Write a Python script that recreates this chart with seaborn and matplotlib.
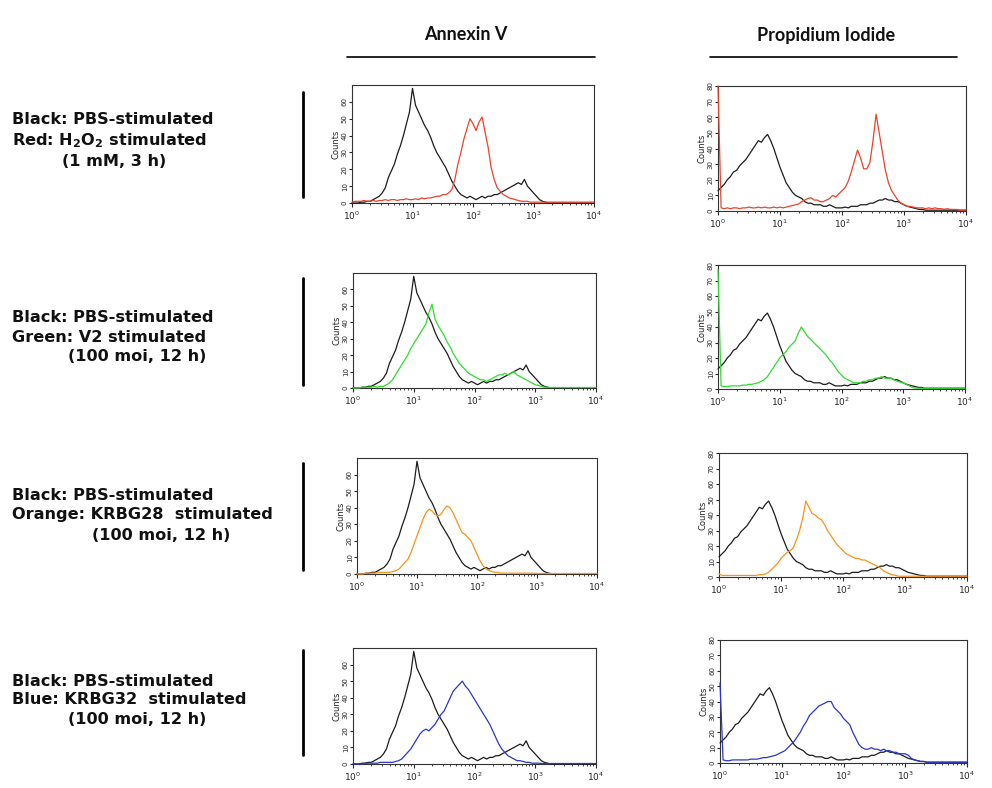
"""Flow cytometry overlays: Annexin V and propidium iodide staining."""

import matplotlib
matplotlib.use("Agg")
import matplotlib.pyplot as plt
from matplotlib.lines import Line2D
import numpy as np
import pandas as pd
import seaborn as sns

# log10 fluorescence channel (bin centres), 10^0 .. 10^4
LOG_CHANNEL = [
    0.00, 0.05, 0.10, 0.15, 0.20, 0.25, 0.30, 0.35, 0.40, 0.45,
    0.50, 0.55, 0.60, 0.65, 0.70, 0.75, 0.80, 0.85, 0.90, 0.95,
    1.00, 1.05, 1.10, 1.15, 1.20, 1.25, 1.30, 1.35, 1.40, 1.45,
    1.50, 1.55, 1.60, 1.65, 1.70, 1.75, 1.80, 1.85, 1.90, 1.95,
    2.00, 2.05, 2.10, 2.15, 2.20, 2.25, 2.30, 2.35, 2.40, 2.45,
    2.50, 2.55, 2.60, 2.65, 2.70, 2.75, 2.80, 2.85, 2.90, 2.95,
    3.00, 3.05, 3.10, 3.15, 3.20, 3.25, 3.30, 3.35, 3.40, 3.45,
    3.50, 3.55, 3.60, 3.65, 3.70, 3.75, 3.80, 3.85, 3.90, 3.95,
    4.00,
]

# Annexin V counts
annexin_pbs = [
    0, 0, 0, 0.5, 0.5, 1, 1, 2, 3, 4,
    6, 9, 15, 19, 23, 29, 34, 40, 47, 54,
    68, 58, 54, 50, 46, 43, 39, 34, 30, 27,
    24, 21, 17, 13, 10, 7, 5, 4, 3, 4,
    3, 2, 3, 4, 3, 4, 4, 5, 5, 6,
    7, 8, 9, 10, 11, 12, 11, 14, 10, 8,
    6, 4, 2, 1, 0.5, 0, 0, 0, 0, 0,
    0, 0, 0, 0, 0, 0, 0, 0, 0, 0,
    0,
]
annexin_h2o2 = [
    0.5, 1, 1, 1, 1.5, 1, 1, 1.5, 1, 1.5,
    1.5, 2, 1.5, 2, 2, 1.5, 2, 2, 2.5, 2,
    2, 2.5, 2, 3, 2.5, 3, 3, 3.5, 4, 4,
    5, 5, 6, 8, 14, 23, 30, 38, 44, 50,
    47, 43, 48, 51, 42, 33, 21, 14, 9, 7,
    5, 4, 3, 2.5, 2, 1.5, 1, 1, 1, 0.5,
    0.5, 0.5, 0.5, 0.5, 0.5, 0.5, 0.5, 0.5, 0.5, 0.5,
    0.5, 0.5, 0.5, 0.5, 0.5, 0.5, 0.5, 0.5, 0.5, 0.5,
    0.5,
]
annexin_v2 = [
    0, 0, 0, 0.5, 0.5, 0.5, 0.5, 1, 0.5, 1,
    1, 2, 3, 5, 8, 11, 14, 17, 20, 24,
    27, 30, 33, 36, 39, 46, 51, 42, 38, 35,
    32, 28, 25, 21, 18, 15, 13, 11, 9, 8,
    7, 6, 5, 5, 4, 5, 6, 7, 8, 8,
    9, 8, 9, 10, 8, 7, 6, 5, 4, 3,
    2, 1.5, 1, 0.5, 0.5, 0.3, 0.3, 0.3, 0.3, 0.3,
    0.3, 0.3, 0.3, 0.3, 0.3, 0.3, 0.3, 0.3, 0.3, 0.3,
    0.3,
]
annexin_krbg28 = [
    0, 0, 0, 0.5, 0.5, 0.5, 0.5, 1, 1, 1,
    1, 1, 1.5, 2, 3, 5, 7, 9, 13, 18,
    23, 28, 33, 37, 39, 38, 36, 35, 36, 39,
    41, 40, 37, 33, 29, 25, 24, 22, 20, 16,
    12, 8, 5, 3, 2, 1.5, 1, 1, 0.5, 0.5,
    0.5, 0.5, 0.5, 0.5, 0.5, 0.5, 0.5, 0.5, 0.5, 0.5,
    0.3, 0.3, 0.3, 0.3, 0.3, 0.3, 0.3, 0.3, 0.3, 0.3,
    0.3, 0.3, 0.3, 0.3, 0.3, 0.3, 0.3, 0.3, 0.3, 0.3,
    0.3,
]
annexin_krbg32 = [
    0, 0, 0, 0, 0.5, 0.5, 0.5, 0.5, 0.5, 1,
    1, 1, 1, 1, 1.5, 2, 3, 5, 7, 9,
    12, 15, 18, 20, 21, 20, 22, 24, 27, 30,
    32, 36, 40, 44, 46, 48, 50, 47, 45, 42,
    39, 36, 33, 30, 27, 24, 20, 16, 12, 9,
    7, 5, 4, 3, 2, 2, 1.5, 1, 1, 0.5,
    0.5, 0.5, 0.3, 0.3, 0.3, 0.3, 0.3, 0.3, 0.3, 0.3,
    0.3, 0.3, 0.3, 0.3, 0.3, 0.3, 0.3, 0.3, 0.3, 0.3,
    0.3,
]

# Propidium iodide counts
pi_pbs = [
    13, 15, 17, 20, 22, 25, 26, 29, 31, 33,
    36, 39, 42, 45, 44, 47, 49, 45, 40, 34,
    28, 23, 18, 15, 12, 10, 9, 8, 6, 5,
    5, 4, 4, 4, 3, 3, 4, 3, 2, 2,
    2, 2.5, 2, 3, 3, 3, 4, 4, 4, 5,
    5, 6, 7, 7, 8, 7, 7, 6, 6, 5,
    4, 3, 2.5, 2, 1.5, 1, 1, 0.5, 0.5, 0.5,
    0.5, 0.5, 0.5, 0.5, 0.5, 0.5, 0.5, 0.5, 0.5, 0.5,
    0.5,
]
pi_h2o2 = [
    80, 2, 1.5, 2, 1.5, 2, 2, 1.5, 2, 2,
    2.5, 2, 2, 2.5, 2, 2.5, 2, 2, 2.5, 2,
    2.5, 2, 2.5, 3, 3.5, 4, 4.5, 6, 7, 8,
    8.5, 7, 7, 6, 6, 7, 8, 10, 9, 11,
    13, 15, 19, 25, 32, 39, 34, 27, 27, 31,
    45, 62, 50, 38, 26, 18, 13, 10, 7, 5,
    4, 3, 3, 2.5, 2, 2, 2, 1.5, 2, 1.5,
    2, 1.5, 1.5, 1, 1.5, 1, 1, 1, 0.5, 0.5,
    0.5,
]
pi_v2 = [
    77, 2, 1.5, 1.5, 2, 2, 2, 2, 2.5, 2.5,
    3, 3, 3.5, 4, 5, 6, 8, 11, 14, 17,
    20, 22, 24, 27, 29, 31, 36, 40, 37, 34,
    32, 30, 28, 26, 24, 22, 19, 17, 14, 11,
    9, 7, 6, 5, 4, 4, 4, 5, 5, 6,
    6, 7, 7, 8, 7, 7, 7, 6, 5, 4.5,
    4, 3, 2, 1, 0.5, 0.5, 0.5, 0.5, 0.5, 0.5,
    0.5, 0.5, 0.5, 0.5, 0.5, 0.5, 0.5, 0.5, 0.5, 0.5,
    0.5,
]
pi_krbg28 = [
    2, 1, 1, 1, 1, 1, 1, 1, 1, 1,
    1, 1, 1, 1.5, 1.5, 2, 3, 5, 7, 9,
    12, 14, 16, 17, 19, 24, 30, 38, 49, 45,
    41, 40, 38, 37, 34, 30, 27, 24, 21, 19,
    17, 15, 14, 13, 12, 12, 11, 11, 10, 9,
    8, 7, 6, 4, 3, 2, 1.5, 1, 0.5, 0.5,
    0.5, 0.5, 0.5, 0.5, 0.5, 0.5, 0.5, 0.5, 0.5, 0.5,
    0.5, 0.5, 0.5, 0.5, 0.5, 0.5, 0.5, 0.5, 0.5, 0.5,
    0.5,
]
pi_krbg32 = [
    52, 2, 1.5, 1.5, 2, 2, 2, 2, 2, 2,
    2.5, 2.5, 2.5, 3, 3.5, 3.5, 4, 4.5, 5, 6,
    7, 8, 10, 12, 14, 17, 20, 24, 27, 31,
    33, 35, 37, 38, 39, 40, 40, 36, 34, 32,
    29, 27, 25, 20, 16, 12, 10, 9, 9, 10,
    9, 9, 8, 9, 8, 8, 7, 7, 6, 6,
    6, 5, 3, 2, 1.5, 1, 1, 0.5, 0.5, 0.5,
    0.5, 0.5, 0.5, 0.5, 0.5, 0.5, 0.5, 0.5, 0.5, 0.5,
    0.5,
]

ROW_LABELS = [
    ["Black: PBS-stimulated", r"Red: H$_\mathbf{2}$O$_\mathbf{2}$ stimulated", "(1 mM, 3 h)"],
    ["Black: PBS-stimulated", "Green: V2 stimulated", "(100 moi, 12 h)"],
    ["Black: PBS-stimulated", "Orange: KRBG28  stimulated", "(100 moi, 12 h)"],
    ["Black: PBS-stimulated", "Blue: KRBG32  stimulated", "(100 moi, 12 h)"],
]
ANNEXIN_TREATED = [annexin_h2o2, annexin_v2, annexin_krbg28, annexin_krbg32]
PI_TREATED = [pi_h2o2, pi_v2, pi_krbg28, pi_krbg32]
COLORS = ["#e8432d", "#2fdc2f", "#f7931e", "#2a35cc"]

W, H = 992, 788
# axes boxes in pixels: (x0, y0, x1, y1), y measured from the top
LEFT_BOXES = [(352, 85, 594, 203), (353, 273, 596, 388),
              (357, 458, 597, 574), (353, 648, 596, 764)]
RIGHT_BOXES = [(718, 86, 966, 211), (718, 265, 965, 389),
               (719, 453, 967, 577), (720, 640, 967, 763)]
LABEL_Y = [(120, 141, 161), (317, 337, 357), (495, 515, 535), (681, 700, 720)]
LABEL_INDENT = [62, 68, 92, 68]
BAR_Y = [(92, 197), (278, 385), (463, 570), (650, 755)]


def px_rect(box):
    x0, y0, x1, y1 = box
    return [x0 / W, 1 - y1 / H, (x1 - x0) / W, (y1 - y0) / H]


def draw_panel(ax, pbs, treated, color, ymax, yticks):
    intensity = 10 ** np.array(LOG_CHANNEL)
    n = len(intensity)
    df = pd.DataFrame({
        "intensity": np.concatenate([intensity, intensity]),
        "counts": list(pbs) + list(treated),
        "sample": ["PBS"] * n + ["treated"] * n,
    })
    sns.lineplot(data=df, x="intensity", y="counts", hue="sample",
                 palette={"PBS": "#1c1c1c", "treated": color},
                 estimator=None, linewidth=0.9, legend=False, ax=ax)
    # let the spike sitting on the first channel show over the left spine
    for line in ax.lines:
        line.set_clip_on(False)
    ax.set_xscale("log")
    ax.set_xlim(1, 1e4)
    ax.set_ylim(0, ymax)
    ax.set_yticks(yticks)
    ax.set_xlabel("")
    ax.set_ylabel("Counts", fontsize=6, labelpad=1)
    ax.tick_params(axis="y", labelrotation=90, labelsize=5, length=2, pad=1)
    ax.tick_params(axis="x", which="major", labelsize=6.5, length=3, pad=2)
    ax.tick_params(axis="x", which="minor", length=1.5)
    for lbl in ax.get_yticklabels():
        lbl.set_va("center")
    for spine in ax.spines.values():
        spine.set_linewidth(0.8)
        spine.set_color("#333333")
        spine.set_zorder(1)


sns.set_style("ticks")
plt.rcParams["font.family"] = ["DejaVu Sans"]
fig = plt.figure(figsize=(W / 100, H / 100), dpi=100)

for i in range(4):
    ax_l = fig.add_axes(px_rect(LEFT_BOXES[i]))
    draw_panel(ax_l, annexin_pbs, ANNEXIN_TREATED[i], COLORS[i], 70, range(0, 61, 10))
    ax_r = fig.add_axes(px_rect(RIGHT_BOXES[i]))
    draw_panel(ax_r, pi_pbs, PI_TREATED[i], COLORS[i], 80, range(0, 81, 10))

    lines = ROW_LABELS[i]
    ys = LABEL_Y[i]
    xs = [12, 12, LABEL_INDENT[i]]
    for text, x, y in zip(lines, xs, ys):
        fig.text(x / W, 1 - y / H, text, fontsize=11.6, fontweight="bold",
                 color="#111111", va="center")

    y0, y1 = BAR_Y[i]
    fig.add_artist(Line2D([303 / W, 303 / W], [1 - y0 / H, 1 - y1 / H],
                          color="black", linewidth=2))

# column headers
for label, xc in [("Annexin V", 466), ("Propidium Iodide", 826)]:
    fig.text(xc / W, 1 - 35 / H, label, fontsize=13, fontweight="bold",
             family=["Lato", "DejaVu Sans"], color="#111111",
             ha="center", va="center")
fig.add_artist(Line2D([347 / W, 595 / W], [1 - 57 / H, 1 - 57 / H], color="black", linewidth=1.2))
fig.add_artist(Line2D([710 / W, 957 / W], [1 - 57 / H, 1 - 57 / H], color="black", linewidth=1.2))

fig.savefig("out.png", dpi=100)
